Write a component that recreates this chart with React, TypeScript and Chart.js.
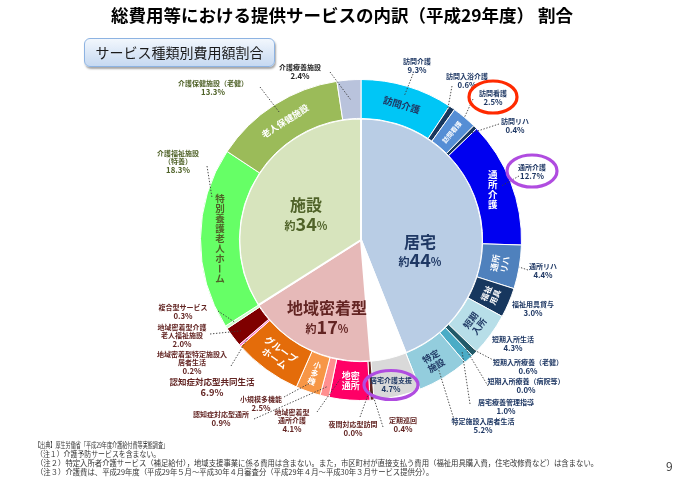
import React, { useEffect, useRef } from 'react';
import { Chart, registerables } from 'chart.js';

Chart.register(...registerables);

const FONT = '"Noto Sans CJK JP", "Noto Sans", sans-serif';
const NAVY = '#1f3864';
const BROWN = '#632523';
const OLIVE = '#4f6228';

// ---- data ----
const outerNames = [
  '訪問介護', '訪問入浴介護', '訪問看護', '訪問リハ', '通所介護', '通所リハ', '福祉用具貸与',
  '短期入所生活介護', '短期入所療養介護（老健）', '短期入所療養介護（病院等）', '居宅療養管理指導',
  '特定施設入居者生活介護', '居宅介護支援', '定期巡回', '夜間対応型訪問介護', '地域密着型通所介護',
  '認知症対応型通所介護', '小規模多機能型居宅介護', '認知症対応型共同生活介護',
  '地域密着型特定施設入居者生活介護', '地域密着型介護老人福祉施設', '複合型サービス',
  '介護福祉施設（特養）', '介護保健施設（老健）', '介護療養施設',
];
const outerValues = [
  9.3, 0.6, 2.5, 0.4, 12.7, 4.4, 3.0, 4.3, 0.6, 0.0, 1.0, 5.2, 4.7,
  0.4, 0.0, 4.1, 0.9, 2.5, 6.9, 0.2, 2.0, 0.3, 18.3, 13.3, 2.4,
];
const outerColors = [
  '#00c6f6', '#17375e', '#558ed5', '#17375e', '#0000f0', '#4f81bd', '#17375e',
  '#b7dee8', '#215968', '#31859c', '#4bacc6', '#93cddd', '#d9d9d9',
  '#632523', '#953735', '#ff0066', '#ff8f8f', '#f79646', '#e46c0a',
  '#ff66cc', '#7f0000', '#ccffcc', '#66ff66', '#9bbb59', '#b9c3dc',
];
const outerCallNames = [
  ['訪問介護'], ['訪問入浴介護'], ['訪問看護'], ['訪問リハ'], ['通所介護'], ['通所リハ'],
  ['福祉用具貸与'], ['短期入所生活'], ['短期入所療養（老健）'], ['短期入所療養（病院等）'],
  ['居宅療養管理指導'], ['特定施設入居者生活'], ['居宅介護支援'], ['定期巡回'], ['夜間対応型訪問'],
  ['地域密着型', '通所介護'], ['認知症対応型通所'], ['小規模多機能'], ['認知症対応型共同生活'],
  ['地域密着型特定施設入', '居者生活'], ['地域密着型介護', '老人福祉施設'], ['複合型サービス'],
  ['介護福祉施設', '（特養）'], ['介護保健施設（老健）'], ['介護療養施設'],
];

const innerNames = ['居宅', '居宅介護支援', '地域密着型', '施設'];
const innerValues = [44.0, 4.7, 17.3, 34.0];
const innerPctText = ['44', '', '17', '34'];
const innerColors = ['#b9cde5', '#ffffff', '#e6b9b8', '#d7e4bd'];

// ---- label layout ----
const callouts: any[] = [
  { i: 0, x: 417, y: 61, c: NAVY, a: [413, 74] },
  { i: 1, x: 467, y: 76, c: NAVY, a: [452, 86] },
  { i: 2, x: 493, y: 93, c: NAVY, a: [473, 99], f: 1.0 },
  { i: 3, x: 515, y: 121, c: NAVY, a: [499, 124] },
  { i: 4, x: 532, y: 167, c: NAVY, a: [519, 176] },
  { i: 5, x: 543, y: 266, c: NAVY, a: [528, 270], f: 1.0 },
  { i: 6, x: 533, y: 304, c: NAVY },
  { i: 7, x: 513, y: 339, c: NAVY },
  { i: 8, x: 528, y: 362, c: NAVY, a: [497, 362] },
  { i: 9, x: 526, y: 381, c: NAVY, a: [488, 386] },
  { i: 10, x: 506, y: 402, c: NAVY, a: [470, 404] },
  { i: 11, x: 483, y: 421, c: NAVY, a: [456, 426] },
  { i: 12, x: 391, y: 380, c: NAVY },
  { i: 13, x: 403, y: 420, c: BROWN, a: [383, 427] },
  { i: 14, x: 353, y: 424, c: BROWN, a: [360, 417] },
  { i: 15, x: 292, y: 412, c: BROWN, a: [317, 412], t: 0.8, f: 0.5 },
  { i: 16, x: 221, y: 414, c: BROWN, a: [254, 419] },
  { i: 17, x: 261, y: 399, c: BROWN, a: [284, 397] },
  { i: 18, x: 212, y: 382, c: BROWN, big: true },
  { i: 19, x: 192, y: 354, c: BROWN, a: [231, 366] },
  { i: 20, x: 182, y: 327, c: BROWN, a: [210, 334] },
  { i: 21, x: 183, y: 307, c: BROWN, a: [218, 311] },
  { i: 22, x: 178, y: 153, c: OLIVE, a: [207, 166], t: 0.73, f: 0.85 },
  { i: 23, x: 213, y: 83, c: OLIVE, a: [260, 87] },
  { i: 24, x: 300, y: 67, c: '#262626', a: [330, 72], f: 0.5 },
];

const ringLabels: any[] = [
  { i: 0, lines: ['訪問介護'], mode: 'tan', color: NAVY, size: 9.5 },
  { i: 2, lines: ['訪問看護'], mode: 'rad', color: '#ffffff', size: 6.5 },
  { i: 4, lines: ['通所介護'], mode: 'vert', color: '#ffffff', size: 9.5 },
  { i: 5, lines: ['通所', 'リハ'], mode: 'tan', color: '#ffffff', size: 8.5 },
  { i: 6, lines: ['福祉', '用具'], mode: 'tan', color: '#ffffff', size: 8 },
  { i: 7, lines: ['短期', '入所'], mode: 'tan', color: NAVY, size: 9 },
  { i: 11, lines: ['特定', '施設'], mode: 'tan', color: NAVY, size: 9 },
  { i: 15, lines: ['地密', '通所'], mode: 'hor', color: '#ffffff', size: 9 },
  { i: 17, lines: ['小多機'], mode: 'vert', rot: 20, color: '#ffffff', size: 8 },
  { i: 18, lines: ['グループ', 'ホーム'], mode: 'tan', color: '#ffffff', size: 9.5 },
  { i: 22, lines: ['特別養護老人ホーム'], mode: 'vert', color: OLIVE, size: 9.5 },
  { i: 23, lines: ['老人保健施設'], mode: 'tan', color: '#ffffff', size: 9 },
];

const innerLabelOffsets: any[] = [
  { name: [59, 2], pct: [59, 20], color: NAVY },
  null,
  { name: [-34, 68], pct: [-34, 87], color: BROWN },
  { name: [-55, -35], pct: [-55, -16], color: OLIVE },
];

const ellipses = [
  { i: 2, cx: 493, cy: 97, rx: 24, ry: 16, color: '#ff2a00' },
  { i: 4, cx: 532, cy: 171, rx: 25, ry: 16, color: '#b04ce0' },
  { i: 12, cx: 391, cy: 385, rx: 27, ry: 14.5, color: '#b04ce0' },
];

function geom(chart: any, ds: number, i: number) {
  const el = chart.getDatasetMeta(ds).data[i];
  return el.getProps(['x', 'y', 'startAngle', 'endAngle', 'innerRadius', 'outerRadius'], true);
}

function ptAt(g: any, t: number, f: number) {
  const a = g.startAngle + (g.endAngle - g.startAngle) * t;
  const r = g.innerRadius + (g.outerRadius - g.innerRadius) * f;
  return { x: g.x + r * Math.cos(a), y: g.y + r * Math.sin(a), a };
}

const labelPlugin = {
  id: 'labels',
  afterDatasetsDraw(chart: any) {
    const ctx: CanvasRenderingContext2D = chart.ctx;
    ctx.save();

    // in-ring labels
    ringLabels.forEach((rl) => {
      const g = geom(chart, 0, rl.i);
      const p = ptAt(g, 0.5, 0.5);
      let rot = 0;
      if (rl.mode === 'tan') {
        rot = p.a + Math.PI / 2;
        while (rot > Math.PI) rot -= 2 * Math.PI;
        while (rot <= -Math.PI) rot += 2 * Math.PI;
        if (rot > Math.PI / 2) rot -= Math.PI;
        if (rot < -Math.PI / 2) rot += Math.PI;
      } else if (rl.mode === 'rad') {
        rot = p.a;
      } else if (rl.mode === 'vert') {
        rot = ((rl.rot || 0) * Math.PI) / 180;
      }
      ctx.save();
      ctx.translate(p.x, p.y);
      ctx.rotate(rot);
      ctx.fillStyle = rl.color;
      ctx.font = `bold ${rl.size}px ${FONT}`;
      ctx.textAlign = 'center';
      ctx.textBaseline = 'middle';
      if (rl.mode === 'vert') {
        const chars = Array.from(rl.lines[0] as string);
        const lh = rl.size + 0.5;
        const y0 = -((chars.length - 1) * lh) / 2;
        chars.forEach((ch, k) => {
          if (ch === 'ー') {
            ctx.save();
            ctx.translate(0, y0 + k * lh);
            ctx.rotate(Math.PI / 2);
            ctx.fillText(ch, 0, 0);
            ctx.restore();
          } else {
            ctx.fillText(ch, 0, y0 + k * lh);
          }
        });
      } else {
        const lh = rl.size + 1.5;
        const y0 = -((rl.lines.length - 1) * lh) / 2;
        rl.lines.forEach((ln: string, k: number) => ctx.fillText(ln, 0, y0 + k * lh));
      }
      ctx.restore();
    });

    // inner pie labels
    const g0 = geom(chart, 1, 0);
    innerLabelOffsets.forEach((o, i) => {
      if (!o) return;
      const cx = g0.x;
      const cy = g0.y;
      ctx.fillStyle = o.color;
      ctx.textBaseline = 'middle';
      ctx.textAlign = 'center';
      ctx.font = `bold 16px ${FONT}`;
      ctx.fillText(innerNames[i], cx + o.name[0], cy + o.name[1]);
      const num = innerPctText[i];
      const f1 = `bold 11px ${FONT}`;
      const f2 = `bold 18px ${FONT}`;
      ctx.font = f1;
      const w1 = ctx.measureText('約').width;
      const w3 = ctx.measureText('%').width;
      ctx.font = f2;
      const w2 = ctx.measureText(num).width;
      let x = cx + o.pct[0] - (w1 + w2 + w3) / 2;
      const by = cy + o.pct[1] + 6;
      ctx.textAlign = 'left';
      ctx.textBaseline = 'alphabetic';
      ctx.font = f1;
      ctx.fillText('約', x, by);
      x += w1;
      ctx.font = f2;
      ctx.fillText(num, x, by + 0.5);
      x += w2;
      ctx.font = f1;
      ctx.fillText('%', x, by);
    });

    // callouts with leaders
    callouts.forEach((c) => {
      const g = geom(chart, 0, c.i);
      if (c.a) {
        const p = ptAt(g, c.t ?? 0.5, c.f ?? 0.75);
        ctx.save();
        ctx.strokeStyle = '#3a3a3a';
        ctx.lineWidth = 0.9;
        ctx.setLineDash([1.4, 1.6]);
        ctx.beginPath();
        ctx.moveTo(c.a[0], c.a[1]);
        ctx.lineTo(p.x, p.y);
        ctx.stroke();
        ctx.restore();
      }
      const lines = [...outerCallNames[c.i], `${outerValues[c.i].toFixed(1)}%`];
      const size = c.big ? 8.5 : 7;
      const lh = c.big ? 10 : 8.6;
      ctx.fillStyle = c.c;
      ctx.textAlign = 'center';
      ctx.textBaseline = 'middle';
      lines.forEach((ln, k) => {
        const isPct = k === lines.length - 1;
        ctx.font = `bold ${isPct ? size + 0.8 : size}px ${FONT}`;
        ctx.fillText(ln, c.x, c.y + k * lh);
      });
    });

    // highlight ellipses
    ellipses.forEach((e) => {
      ctx.save();
      ctx.strokeStyle = e.color;
      ctx.lineWidth = 3.2;
      ctx.beginPath();
      ctx.ellipse(e.cx, e.cy, e.rx, e.ry, 0, 0, Math.PI * 2);
      ctx.stroke();
      ctx.restore();
    });

    ctx.restore();
  },
};

const footerLines = [
  { text: '【出典】厚生労働省「平成29年度介護給付費等実態調査」', left: 35, top: 440, sx: 0.68 },
  { text: '（注１）介護予防サービスを含まない。', left: 36, top: 449, sx: 0.92 },
  { text: '（注２）特定入所者介護サービス（補足給付），地域支援事業に係る費用は含まない。また，市区町村が直接支払う費用（福祉用具購入費，住宅改修費など）は含まない。', left: 36, top: 458, sx: 0.98 },
  { text: '（注３）介護費は、平成29年度（平成29年５月～平成30年４月審査分（平成29年４月～平成30年３月サービス提供分）。', left: 36, top: 467, sx: 0.98 },
];

export default function App() {
  const ref = useRef<HTMLCanvasElement | null>(null);

  useEffect(() => {
    document.body.style.margin = '0';
    const canvas = ref.current!;
    const chart = new Chart(canvas, {
      type: 'doughnut',
      data: {
        labels: outerNames,
        datasets: [
          {
            label: 'サービス',
            data: outerValues,
            backgroundColor: outerColors,
            borderColor: '#ffffff',
            borderWidth: 1,
            weight: 39,
          } as any,
          {
            label: '区分',
            data: innerValues,
            backgroundColor: innerColors,
            borderColor: '#ffffff',
            borderWidth: 2,
            weight: 122,
          } as any,
        ],
      },
      options: {
        responsive: false,
        animation: false,
        devicePixelRatio: 1,
        cutout: 0,
        events: [],
        layout: { padding: { left: 200, right: 170, top: 78, bottom: 78 } },
        plugins: {
          legend: { display: false },
          tooltip: { enabled: false },
          title: { display: false },
        },
      } as any,
      plugins: [labelPlugin],
    });
    return () => chart.destroy();
  }, []);

  return (
    <div
      style={{
        position: 'absolute',
        left: 0,
        top: 0,
        width: 692,
        height: 480,
        background: '#ffffff',
        overflow: 'hidden',
        fontFamily: FONT,
      }}
    >
      <canvas ref={ref} width={692} height={480} style={{ position: 'absolute', left: 0, top: 0 }} />
      <div
        style={{
          position: 'absolute',
          left: -8,
          top: 4,
          width: 700,
          textAlign: 'center',
          fontSize: 17.5,
          fontWeight: 'bold',
          lineHeight: '22px',
          color: '#000',
          whiteSpace: 'nowrap',
        }}
      >
        総費用等における提供サービスの内訳（平成29年度） 割合
      </div>
      <div
        style={{
          position: 'absolute',
          left: 84,
          top: 38,
          width: 189,
          height: 27,
          border: '1px solid #8db3e2',
          borderRadius: 6,
          background: 'linear-gradient(#f2f7fd, #c6d9f1)',
          boxShadow: '1px 2px 2px rgba(0,0,0,0.35)',
          textAlign: 'center',
          lineHeight: '27px',
          fontSize: 14,
          color: '#1a1a1a',
          whiteSpace: 'nowrap',
        }}
      >
        サービス種類別費用額割合
      </div>
      {footerLines.map((l, k) => (
        <div
          key={k}
          style={{
            position: 'absolute',
            left: l.left,
            top: l.top,
            fontSize: 7.5,
            lineHeight: '10px',
            color: '#333',
            whiteSpace: 'nowrap',
            transform: `scaleX(${l.sx})`,
            transformOrigin: 'left center',
          }}
        >
          {l.text}
        </div>
      ))}
      <div style={{ position: 'absolute', left: 666, top: 457, fontSize: 12, color: '#404040' }}>9</div>
    </div>
  );
}
